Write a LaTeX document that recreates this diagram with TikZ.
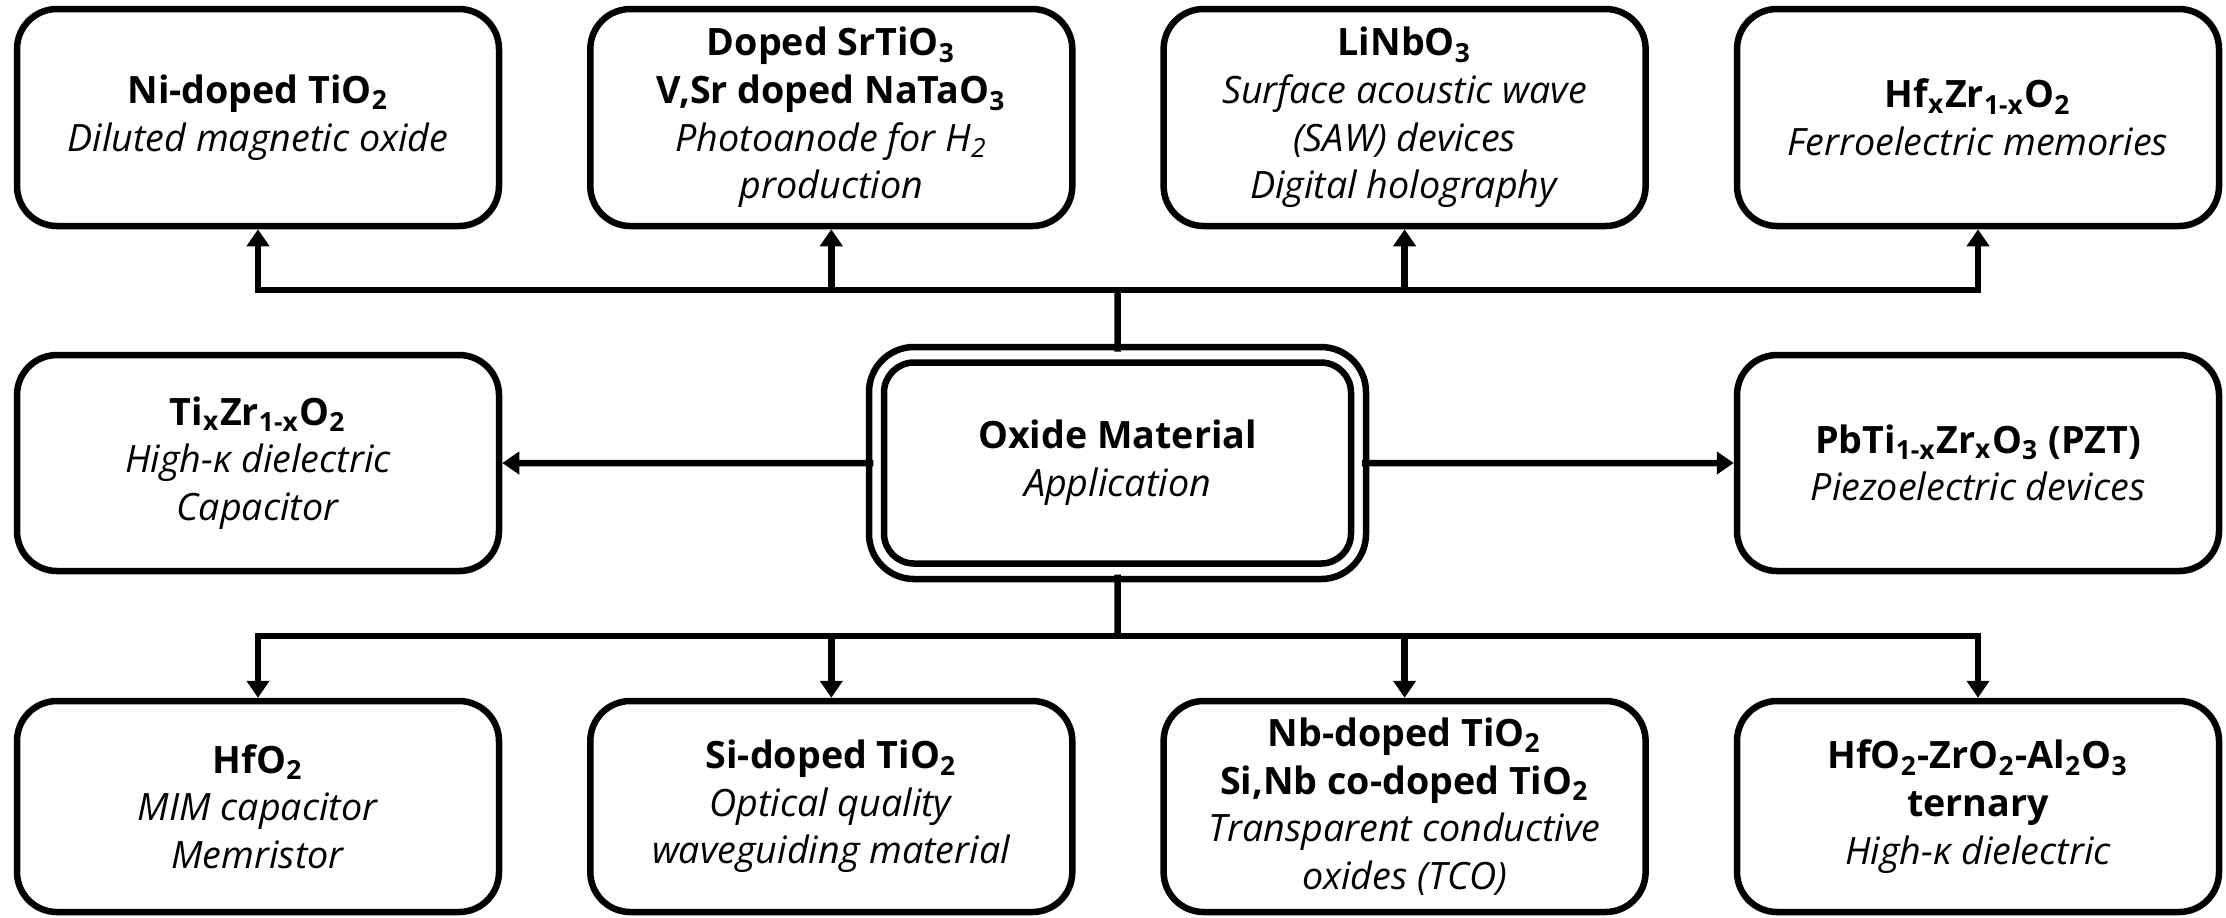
\documentclass[tikz,border=0pt]{standalone}
\usepackage{fontspec}
\setmainfont{Open Sans}
\usetikzlibrary{arrows.meta,calc}
\newcommand\sub[1]{\textsubscript{#1}}
\begin{document}
\begin{tikzpicture}[x=0.3pt,y=-0.3pt,
  line width=1.95pt,
  txt/.style={font=\fontsize{11.3}{14.3}\selectfont},
  box/.style={draw,rounded corners=12pt,fill=white,minimum width=144.6pt,
    align=center,inner sep=0pt,txt},
  topbox/.style={box,minimum height=65.1pt},
  sidebox/.style={box,minimum height=64.8pt},
  botbox/.style={box,minimum height=63.3pt},
  arr/.style={-{Triangle[length=5.1pt,width=6.6pt]}}
]
\useasboundingbox (0,0) rectangle (2226,917);

% top row
\node[topbox] (t1) at (258,117.5) {\textbf{Ni-doped TiO\sub{2}}\\\textit{Diluted magnetic oxide}};
\node[topbox] (t2) at (831.3,117.5) {\textbf{Doped SrTiO\sub{3}}\\\textbf{V,Sr doped NaTaO\sub{3}}\\\textit{Photoanode for H\sub{2}}\\\textit{production}};
\node[topbox] (t3) at (1404.6,117.5) {\textbf{LiNbO\sub{3}}\\\textit{Surface acoustic wave}\\\textit{(SAW) devices}\\\textit{Digital holography}};
\node[topbox] (t4) at (1978,117.5) {\textbf{Hf\sub{x}Zr\sub{1-x}O\sub{2}}\\\textit{Ferroelectric memories}};

% middle row
\node[sidebox] (ml) at (258,463) {\textbf{Ti\sub{x}Zr\sub{1-x}O\sub{2}}\\\textit{High-κ dielectric}\\\textit{Capacitor}};
\node[sidebox] (mr) at (1978,463) {\textbf{PbTi\sub{1-x}Zr\sub{x}O\sub{3} (PZT)}\\\textit{Piezoelectric devices}};

\node[draw,rounded corners=13.5pt,minimum width=149.1pt,minimum height=69.6pt] (coreout) at (1117.5,463) {};
\node[draw,rounded corners=9pt,minimum width=140.1pt,minimum height=60.3pt,align=center,txt] (core) at (1117.5,463) {\textbf{Oxide Material}\\\textit{Application}};

% bottom row
\node[botbox] (b1) at (258,806.5) {\textbf{HfO\sub{2}}\\\textit{MIM capacitor}\\\textit{Memristor}};
\node[botbox] (b2) at (831.3,806.5) {\textbf{Si-doped TiO\sub{2}}\\\textit{Optical quality}\\\textit{waveguiding material}};
\node[botbox] (b3) at (1404.6,806.5) {\textbf{Nb-doped TiO\sub{2}}\\\textbf{Si,Nb co-doped TiO\sub{2}}\\\textit{Transparent conductive}\\\textit{oxides (TCO)}};
\node[botbox] (b4) at (1978,806.5) {\textbf{HfO\sub{2}-ZrO\sub{2}-Al\sub{2}O\sub{3}}\\\textbf{ternary}\\\textit{High-κ dielectric}};

% connector points
\coordinate (ts) at ($(coreout.north)!0.5!(core.north)$);
\coordinate (bs) at ($(coreout.south)!0.5!(core.south)$);
\coordinate (ls) at ($(coreout.west)!0.5!(core.west)$);
\coordinate (rs) at ($(coreout.east)!0.5!(core.east)$);
\coordinate (tb) at (1117.5,290);
\coordinate (bb) at (1117.5,636);

\draw (ts) -- (tb);
\draw[arr] (tb) -| (t1.south);
\draw[arr] (tb) -| (t2.south);
\draw[arr] (tb) -| (t3.south);
\draw[arr] (tb) -| (t4.south);

\draw (bs) -- (bb);
\draw[arr] (bb) -| (b1.north);
\draw[arr] (bb) -| (b2.north);
\draw[arr] (bb) -| (b3.north);
\draw[arr] (bb) -| (b4.north);

\draw[arr] (ls) -- (ml.east);
\draw[arr] (rs) -- (mr.west);
\end{tikzpicture}
\end{document}
